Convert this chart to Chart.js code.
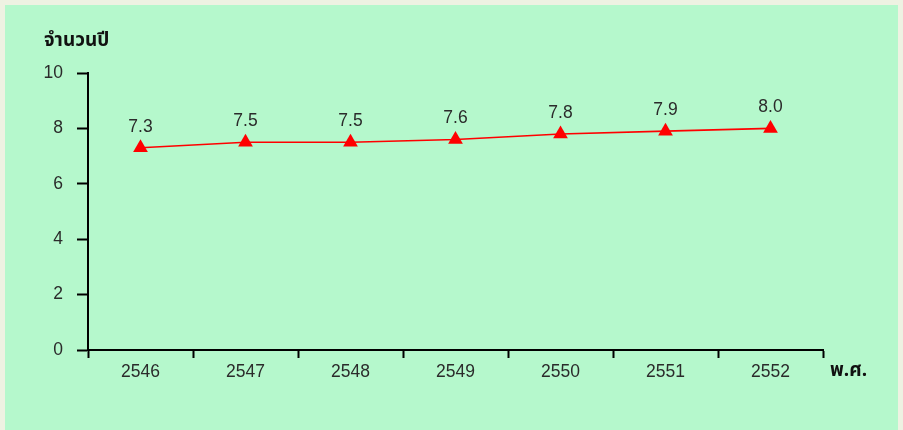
<!DOCTYPE html>
<html>
<head>
<meta charset="utf-8">
<script src="https://cdn.jsdelivr.net/npm/chart.js@4/dist/chart.umd.min.js"></script>
<style>
  html, body { margin: 0; padding: 0; background: #eef2e2; }
  #wrap { position: relative; width: 903px; height: 430px; }
  #panel { position: absolute; left: 5px; top: 5px; width: 893px; height: 425px; background: #b5f8cc; }
  canvas { position: absolute; left: 0; top: 0; }
</style>
</head>
<body>
<div id="wrap">
  <div id="panel"></div>
  <canvas id="c" width="903" height="430"></canvas>
</div>
<script>
// Years (Buddhist Era) and average years of schooling
const years = ['2546', '2547', '2548', '2549', '2550', '2551', '2552'];
const values = [7.3, 7.5, 7.5, 7.6, 7.8, 7.9, 8.0];
const yTicks = [0, 2, 4, 6, 8, 10];

const yTitle = 'จำนวนปี';
const xTitle = 'พ.ศ.';

const textColor = '#2b2b2b';
const numFont = "'Liberation Sans', Arial, sans-serif";
const thaiFont = "'Noto Sans Thai', 'Noto Sans', 'DejaVu Sans', sans-serif";

// Value labels above each point plus the two axis titles
const annotate = {
  id: 'annotate',
  afterDatasetsDraw(chart) {
    const ctx = chart.ctx;
    const meta = chart.getDatasetMeta(0);
    ctx.save();
    ctx.fillStyle = textColor;
    ctx.font = '17.5px ' + numFont;
    ctx.textAlign = 'center';
    ctx.textBaseline = 'middle';
    meta.data.forEach((pt, i) => {
      ctx.fillText(values[i].toFixed(1), pt.x, pt.y - 21);
    });
    ctx.font = 'bold 19px ' + thaiFont;
    ctx.textAlign = 'left';
    ctx.fillStyle = '#111';
    ctx.fillText(yTitle, 44, 42);
    const xs = chart.scales.x;
    ctx.fillText(xTitle, xs.right + 7, 372);
    ctx.restore();
  }
};

new Chart(document.getElementById('c'), {
  type: 'line',
  data: {
    labels: years,
    datasets: [{
      data: values,
      borderColor: '#ff0000',
      borderWidth: 1.6,
      backgroundColor: '#ff0000',
      pointStyle: 'triangle',
      pointRadius: 8.5,
      pointHoverRadius: 8.5,
      pointBorderWidth: 0,
      tension: 0
    }]
  },
  options: {
    responsive: false,
    animation: false,
    events: [],
    layout: { padding: { left: 0, right: 80, top: 73, bottom: 0 } },
    plugins: { legend: { display: false }, tooltip: { enabled: false } },
    scales: {
      x: {
        type: 'category',
        offset: true,
        grid: {
          offset: true,
          drawOnChartArea: false,
          drawTicks: true,
          tickLength: 8,
          tickWidth: 2,
          color: '#000'
        },
        border: { display: true, color: '#000', width: 2 },
        ticks: {
          color: textColor,
          font: { family: numFont, size: 17.5 },
          padding: 4,
          maxRotation: 0
        },
        afterFit(s) { s.height = 80; }
      },
      y: {
        min: 0,
        max: 10,
        afterBuildTicks(s) { s.ticks = yTicks.map(v => ({ value: v })); },
        grid: {
          drawOnChartArea: false,
          drawTicks: true,
          tickLength: 11,
          tickWidth: 2,
          color: '#000'
        },
        border: { display: true, color: '#000', width: 2 },
        ticks: {
          color: textColor,
          font: { family: numFont, size: 17.5 },
          padding: 14
        },
        afterFit(s) { s.width = 88; }
      }
    }
  },
  plugins: [annotate]
});
</script>
</body>
</html>
